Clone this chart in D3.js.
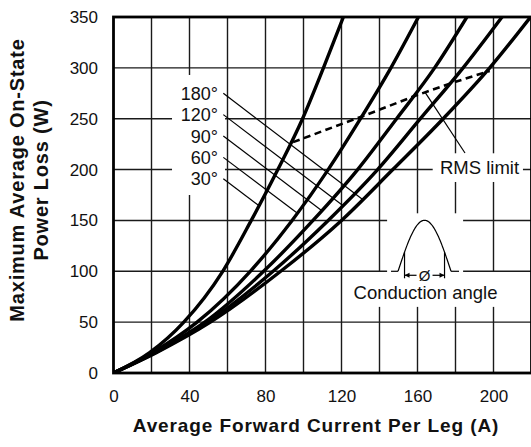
<!DOCTYPE html>
<html>
<head>
<meta charset="utf-8">
<script src="https://cdn.jsdelivr.net/npm/d3@7/dist/d3.min.js"></script>
<style>
body{margin:0;background:#fff}
svg text{font-family:"Liberation Sans",Arial,Helvetica,sans-serif;fill:#111}
</style>
</head>
<body>
<svg width="531" height="447"></svg>
<script>
// tick labels
var xTicks = [0, 40, 80, 120, 160, 200],
	yTicks = [0, 50, 100, 150, 200, 250, 300, 350],
	xGrid = [20, 40, 60, 80, 100, 120, 140, 160, 180, 200],
	yGrid = [50, 100, 150, 200, 250, 300];

// power loss levels (W) and the current (A) where each curve reaches them
var loss = [0, 20, 50, 100, 150, 200, 250, 300, 350];
var angles = ["30°", "60°", "90°", "120°", "180°"];
var amps30 = [0, 19, 37, 57.5, 72.5, 86.5, 99.5, 110.5, 121],
	amps60 = [0, 20.5, 44, 72, 94, 113, 130, 146, 160.5],
	amps90 = [0, 21.5, 48, 79, 105, 128.5, 149, 169, 186],
	amps120 = [0, 22, 49.5, 84, 113, 139, 161.5, 184, 204.5],
	amps180 = [0, 22.5, 51, 88, 120, 147, 173.5, 198, 219.5];

// RMS limit line
var rmsAmps = [94.5, 130.5, 159.5, 179.5, 198],
	rmsLoss = [227, 252, 273, 286, 297];

// label anchors for the angle callouts (W at leader start)
var labelLoss = [191, 212, 233, 254, 275];

var svg = d3.select("svg");

var x = d3.scaleLinear().domain([0, 220]).range([113.5, 531.5]),
	y = d3.scaleLinear().domain([0, 350]).range([373, 17]);

var series = [amps30, amps60, amps90, amps120, amps180].map(function(a, k) {
	return {name: angles[k], pts: a.map(function(v, i) { return [v, loss[i]]; })};
});

svg.append("clipPath").attr("id", "plot")
	.append("rect").attr("x", x(0)).attr("y", y(350))
	.attr("width", x(220) - x(0)).attr("height", y(0) - y(350));

// grid
var grid = svg.append("g").attr("stroke", "#1a1a1a").attr("stroke-width", 1.4);
grid.selectAll(".gx").data(xGrid).enter().append("line")
	.attr("x1", function(d) { return x(d); }).attr("x2", function(d) { return x(d); })
	.attr("y1", y(0)).attr("y2", y(350));
grid.selectAll(".gy").data(yGrid).enter().append("line")
	.attr("y1", function(d) { return y(d); }).attr("y2", function(d) { return y(d); })
	.attr("x1", x(0)).attr("x2", x(220));

// white patches behind annotation text
var patches = [
	[30.8, 58.7, 175, 293],
	[168, 215.5, 187.8, 216],
	[144, 184, 99, 157],
	[123.4, 205, 65, 99.3]
];
svg.append("g").selectAll("rect").data(patches).enter().append("rect")
	.attr("x", function(d) { return x(d[0]); })
	.attr("y", function(d) { return y(d[3]); })
	.attr("width", function(d) { return x(d[1]) - x(d[0]); })
	.attr("height", function(d) { return y(d[2]) - y(d[3]); })
	.attr("fill", "#fff");

// frame
svg.append("rect")
	.attr("x", x(0)).attr("y", y(350))
	.attr("width", x(220) - x(0)).attr("height", y(0) - y(350))
	.attr("fill", "none").attr("stroke", "#000").attr("stroke-width", 2.8);

// curves
var line = d3.line()
	.x(function(d) { return x(d[0]); })
	.y(function(d) { return y(d[1]); })
	.curve(d3.curveMonotoneX);

var curves = svg.append("g").attr("clip-path", "url(#plot)")
	.selectAll("path").data(series).enter().append("path")
	.attr("d", function(d) { return line(d.pts); })
	.attr("fill", "none").attr("stroke", "#000").attr("stroke-width", 3.4);

// RMS limit
var rmsPts = rmsAmps.map(function(v, i) { return [v, rmsLoss[i]]; });
svg.append("path")
	.attr("d", d3.line().x(function(d) { return x(d[0]); }).y(function(d) { return y(d[1]); })(rmsPts))
	.attr("fill", "none").attr("stroke", "#000").attr("stroke-width", 2.6)
	.attr("stroke-dasharray", "7,4.5");

// angle callouts: leader runs down-right until it meets its curve
var leadX = x(57.8), slope = 0.763;
curves.each(function(d, k) {
	var node = this, y0 = y(labelLoss[k]), total = node.getTotalLength(), hit = null;
	for (var len = 0; len <= total; len += 0.5) {
		var p = node.getPointAtLength(len);
		if (p.y - (y0 + slope * (p.x - leadX)) < 0) { hit = p; break; }
	}
	svg.append("line")
		.attr("x1", leadX).attr("y1", y0)
		.attr("x2", hit.x).attr("y2", hit.y)
		.attr("stroke", "#000").attr("stroke-width", 1.2);
	svg.append("text")
		.attr("x", x(55)).attr("y", y0 + 6.5)
		.attr("text-anchor", "end")
		.style("font-size", "18px")
		.text(d.name);
});

// RMS limit callout
var rmsAt = 164, rmsY = d3.scaleLinear().domain(rmsAmps).range(rmsLoss)(rmsAt);
svg.append("line")
	.attr("x1", x(rmsAt)).attr("y1", y(rmsY))
	.attr("x2", x(185)).attr("y2", y(216.3))
	.attr("stroke", "#000").attr("stroke-width", 1.2);
svg.append("text")
	.attr("x", x(171.8)).attr("y", y(195.7))
	.style("font-size", "18.5px")
	.text("RMS limit");

// conduction angle sketch
var cx = x(163.7), by = y(100), hw = 26.5, ht = 51, cut = 20;
var arch = d3.range(-hw, hw + 0.01, 0.5).map(function(t) {
	return [cx + t, by - ht * Math.cos(Math.PI / 2 * t / hw)];
});
var sk = svg.append("g").attr("stroke", "#000").attr("fill", "none").attr("stroke-width", 1.2);
sk.append("path").attr("d", d3.line().curve(d3.curveLinear)(arch));
sk.append("line").attr("x1", cx - hw - 7).attr("x2", cx - hw).attr("y1", by).attr("y2", by);
sk.append("line").attr("x1", cx + hw).attr("x2", cx + hw + 8).attr("y1", by).attr("y2", by);
[-cut, cut].forEach(function(t) {
	var top = by - ht * Math.cos(Math.PI / 2 * t / hw);
	sk.append("line").attr("x1", cx + t).attr("x2", cx + t).attr("y1", top).attr("y2", by + 7);
});
sk.append("line").attr("x1", cx - cut).attr("x2", cx - 8).attr("y1", by + 4).attr("y2", by + 4);
sk.append("line").attr("x1", cx + 8).attr("x2", cx + cut).attr("y1", by + 4).attr("y2", by + 4);
svg.append("path")
	.attr("d", "M" + (cx - cut) + "," + (by + 4) + "l5,-2.5v5z" +
		"M" + (cx + cut) + "," + (by + 4) + "l-5,-2.5v5z")
	.attr("fill", "#000");
svg.append("text")
	.attr("x", cx).attr("y", by + 9.5)
	.attr("text-anchor", "middle")
	.style("font-size", "15px")
	.text("Ø");
svg.append("text")
	.attr("x", cx + 1).attr("y", by + 28)
	.attr("text-anchor", "middle")
	.style("font-size", "18.5px")
	.text("Conduction angle");

// axes (labels only)
var xAxis = svg.append("g")
	.attr("transform", "translate(0," + y(0) + ")")
	.call(d3.axisBottom(x).tickValues(xTicks).tickSize(0).tickPadding(17));
var yAxis = svg.append("g")
	.attr("transform", "translate(" + x(0) + ",0)")
	.call(d3.axisLeft(y).tickValues(yTicks).tickSize(0).tickPadding(15.5));
[xAxis, yAxis].forEach(function(a) {
	a.select(".domain").remove();
	a.selectAll("text").style("font-size", "17px").attr("fill", "#111")
		.style("font-family", "'Liberation Sans',Arial,sans-serif");
});

// titles
svg.append("text")
	.attr("x", 316).attr("y", 432)
	.attr("text-anchor", "middle")
	.style("font-size", "19px").style("font-weight", "bold")
	.style("letter-spacing", "0.9px")
	.text("Average Forward Current Per Leg (A)");
var yt = svg.append("text")
	.attr("transform", "translate(0,180) rotate(-90)")
	.attr("text-anchor", "middle")
	.style("font-size", "20px").style("font-weight", "bold")
	.style("letter-spacing", "0.8px");
yt.append("tspan").attr("x", 0).attr("y", 24).text("Maximum Average On-State");
yt.append("tspan").attr("x", 0).attr("y", 48).text("Power Loss (W)");
</script>
</body>
</html>
